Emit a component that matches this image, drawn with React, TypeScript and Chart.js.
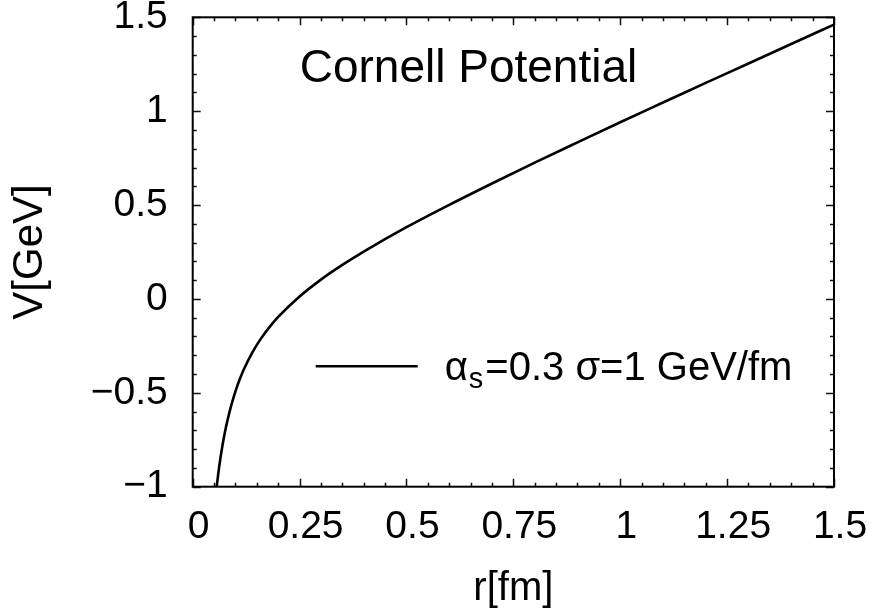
import React, { useEffect, useRef } from 'react';
import { Chart, registerables } from 'chart.js';

Chart.register(...registerables);

const FONT = "'Liberation Sans', Arial, Helvetica, sans-serif";

// r [fm] and V [GeV]
const rValues = [0.0561, 0.06, 0.065, 0.07, 0.075, 0.08, 0.09, 0.10, 0.11, 0.12, 0.14, 0.16, 0.18, 0.20, 0.25, 0.30, 0.35, 0.40, 0.50, 0.60, 0.70, 0.80, 0.90, 1.00, 1.10, 1.20, 1.30, 1.40, 1.50];
const vValues = [-1.0, -0.927, -0.846, -0.776, -0.714, -0.66, -0.568, -0.492, -0.428, -0.373, -0.283, -0.21, -0.149, -0.096, 0.013, 0.103, 0.181, 0.252, 0.382, 0.501, 0.615, 0.726, 0.834, 0.941, 1.046, 1.151, 1.254, 1.358, 1.461];

const xTickValues = [0, 0.25, 0.5, 0.75, 1, 1.25, 1.5];
const xTickLabels = ['0', '0.25', '0.5', '0.75', '1', '1.25', '1.5'];
const yTickValues = [-1, -0.5, 0, 0.5, 1, 1.5];
const yTickLabels = ['\u22121', '\u22120.5', '0', '0.5', '1', '1.5'];

const titleText = 'Cornell Potential';
const legendAlpha = '\u03b1';
const legendSub = 's';
const legendRest = '=0.3 \u03c3=1 GeV/fm';
const xTitle = 'r[fm]';
const yTitle = 'V[GeV]';

const framePlugin = {
  id: 'frameTicks',
  afterDatasetsDraw(chart: any) {
    const ctx = chart.ctx;
    const { left, right, top, bottom } = chart.chartArea;
    const xs = chart.scales.x;
    const ys = chart.scales.y;
    ctx.save();
    ctx.strokeStyle = '#111';
    ctx.lineWidth = 1.5;
    // x ticks (minor every 0.05, major every 0.25)
    for (let i = 0; i <= 30; i++) {
      const v = i * 0.05;
      const major = i % 5 === 0;
      const len = major ? 8 : 4;
      const px = Math.round(xs.getPixelForValue(v)) + 0.5;
      ctx.beginPath();
      ctx.moveTo(px, bottom);
      ctx.lineTo(px, bottom - len);
      ctx.moveTo(px, top);
      ctx.lineTo(px, top + len);
      ctx.stroke();
    }
    // y ticks (minor every 0.1, major every 0.5)
    for (let i = 0; i <= 25; i++) {
      const v = -1 + i * 0.1;
      const major = i % 5 === 0;
      const len = major ? 8 : 4;
      const py = Math.round(ys.getPixelForValue(v)) + 0.5;
      ctx.beginPath();
      ctx.moveTo(left, py);
      ctx.lineTo(left + len, py);
      ctx.moveTo(right, py);
      ctx.lineTo(right - len, py);
      ctx.stroke();
    }
    // frame
    ctx.strokeStyle = '#000';
    ctx.lineWidth = 2;
    ctx.strokeRect(left, top, right - left, bottom - top);

    // title
    ctx.fillStyle = '#000';
    ctx.textBaseline = 'alphabetic';
    ctx.textAlign = 'left';
    ctx.font = `46px ${FONT}`;
    ctx.fillText(titleText, left + 107, top + 65);

    // legend
    const ly = top + 349;
    ctx.lineWidth = 2.5;
    ctx.beginPath();
    ctx.moveTo(left + 123, ly);
    ctx.lineTo(left + 225, ly);
    ctx.stroke();
    let tx = left + 252;
    const base = ly + 14;
    ctx.font = `40px ${FONT}`;
    ctx.fillText(legendAlpha, tx, base);
    tx += ctx.measureText(legendAlpha).width + 1;
    ctx.font = `29px ${FONT}`;
    ctx.fillText(legendSub, tx, base + 8);
    tx += ctx.measureText(legendSub).width + 2;
    ctx.font = `40px ${FONT}`;
    ctx.fillText(legendRest, tx, base);
    ctx.restore();
  },
};

export default function App() {
  const canvasRef = useRef<HTMLCanvasElement | null>(null);

  useEffect(() => {
    const canvas = canvasRef.current;
    if (!canvas) return;
    const points = rValues.map((r, i) => ({ x: r, y: vValues[i] }));
    const chart = new Chart(canvas, {
      type: 'line',
      data: {
        datasets: [
          {
            label: '\u03b1s=0.3 \u03c3=1 GeV/fm',
            data: points,
            borderColor: '#000',
            borderWidth: 2.6,
            pointRadius: 0,
            fill: false,
            cubicInterpolationMode: 'monotone',
          },
        ],
      },
      options: {
        responsive: false,
        animation: false,
        events: [],
        layout: { padding: { top: 17.3, right: 38, left: 0, bottom: 0 } },
        plugins: {
          legend: { display: false },
          title: { display: false },
          tooltip: { enabled: false },
        },
        scales: {
          x: {
            type: 'linear',
            position: 'bottom',
            min: 0,
            max: 1.5,
            afterBuildTicks: (s: any) => {
              s.ticks = xTickValues.map((v) => ({ value: v }));
            },
            afterFit: (s: any) => {
              s.height = 128.3;
              s.paddingLeft = 0;
              s.paddingRight = 0;
            },
            ticks: {
              callback: (v: any) => {
                const i = xTickValues.findIndex((t) => Math.abs(t - v) < 1e-9);
                return i >= 0 ? xTickLabels[i] : '';
              },
              font: { family: FONT, size: 39 },
              color: '#000',
              padding: 17,
              labelOffset: 6,
              maxRotation: 0,
              autoSkip: false,
            },
            grid: { display: false, drawTicks: false },
            border: { display: false },
            title: {
              display: true,
              text: xTitle,
              font: { family: FONT, size: 40 },
              color: '#000',
              padding: { top: 0, bottom: 2 },
            },
          },
          y: {
            type: 'linear',
            min: -1,
            max: 1.5,
            afterBuildTicks: (s: any) => {
              s.ticks = yTickValues.map((v) => ({ value: v }));
            },
            afterFit: (s: any) => {
              s.width = 192.7;
              s.paddingTop = 0;
              s.paddingBottom = 0;
            },
            ticks: {
              callback: (v: any) => {
                const i = yTickValues.findIndex((t) => Math.abs(t - v) < 1e-9);
                return i >= 0 ? yTickLabels[i] : '';
              },
              font: { family: FONT, size: 39 },
              color: '#000',
              padding: 25,
              autoSkip: false,
            },
            grid: { display: false, drawTicks: false },
            border: { display: false },
            title: {
              display: true,
              text: yTitle,
              font: { family: FONT, size: 42 },
              color: '#000',
              padding: { top: 5, bottom: 0 },
            },
          },
        },
      },
      plugins: [framePlugin],
    } as any);
    return () => chart.destroy();
  }, []);

  return (
    <div style={{ position: 'fixed', left: 0, top: 0, width: 872, height: 615, background: '#fff' }}>
      <canvas ref={canvasRef} width={872} height={615} style={{ display: 'block', width: 872, height: 615 }} />
    </div>
  );
}
